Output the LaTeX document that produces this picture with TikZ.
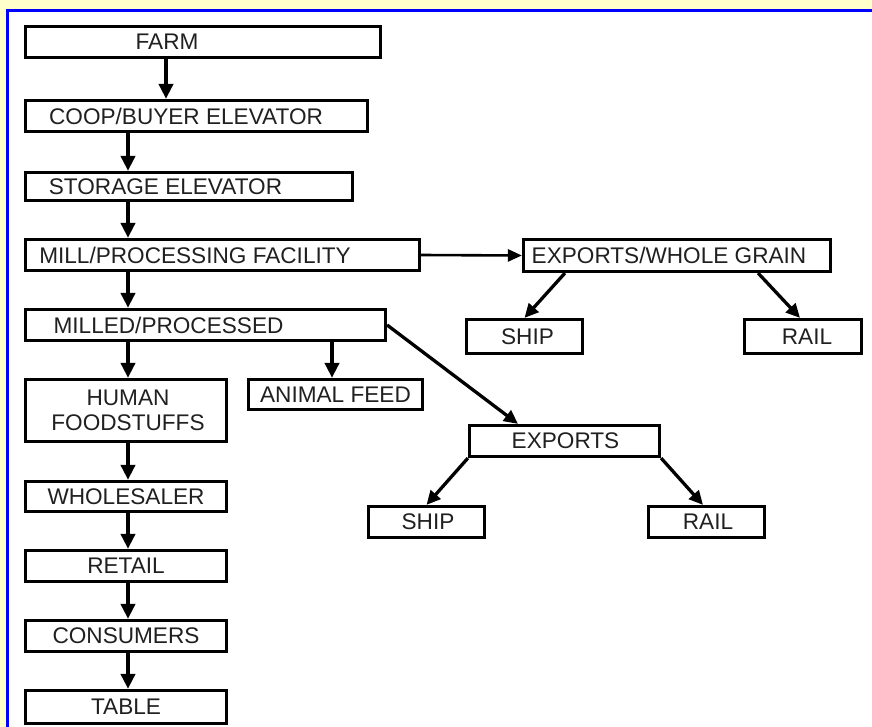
\documentclass[tikz,border=0pt]{standalone}
\usepackage{fontspec}
\setmainfont{Liberation Sans}
\usetikzlibrary{arrows.meta}
\definecolor{bgyellow}{HTML}{FFFFCC}
\definecolor{frameblue}{HTML}{0000FF}
\definecolor{txt}{HTML}{202020}
\begin{document}
\begin{tikzpicture}[x=1pt,y=-1pt,
  box/.style={draw=black, line width=3.2pt, fill=white, inner sep=0pt, rectangle},
  lbl/.style={font=\fontsize{22.6}{25}\selectfont, text=txt, inner sep=0pt, align=center},
  arr/.style={line width=3.8pt, -{Triangle[width=14pt,length=15pt]}},
  darr/.style={line width=3.3pt, -{Triangle[width=13pt,length=14pt]}},
  harr/.style={line width=2.6pt, -{Triangle[width=12pt,length=14pt]}}]
\useasboundingbox (0,0) rectangle (872,727);
\fill[bgyellow] (0,0) rectangle (872,727);
\fill[white] (7.5,11) rectangle (872,727);
\draw[frameblue, line width=3pt] (7.5,727) -- (7.5,11) -- (872,11);

\node[box, minimum width=355pt, minimum height=31pt, label={[lbl,xshift=-36pt]center:FARM}] (farm) at (203,42) {};
\node[box, minimum width=342pt, minimum height=31pt, label={[lbl,xshift=-10.5pt]center:COOP/BUYER ELEVATOR}] (coop) at (196.5,116) {};
\node[box, minimum width=327pt, minimum height=28pt, label={[lbl,xshift=-23.5pt]center:STORAGE ELEVATOR}] (storage) at (189,186.5) {};
\node[box, minimum width=394pt, minimum height=31pt, label={[lbl,xshift=-27.5pt]center:MILL/PROCESSING FACILITY}] (mill) at (222.5,255) {};
\node[box, minimum width=360pt, minimum height=31pt, label={[lbl,xshift=-37pt]center:MILLED/PROCESSED}] (milled) at (205.5,325) {};
\node[box, minimum width=201pt, minimum height=62pt, label={[lbl,xshift=2pt]center:HUMAN\\FOODSTUFFS}] (human) at (126,410.5) {};
\node[box, minimum width=174pt, minimum height=30pt, label={[lbl]center:ANIMAL FEED}] (animal) at (335.5,394.5) {};
\node[box, minimum width=201pt, minimum height=30pt, label={[lbl]center:WHOLESALER}] (wholesaler) at (126,496.5) {};
\node[box, minimum width=201pt, minimum height=31pt, label={[lbl]center:RETAIL}] (retail) at (126,566) {};
\node[box, minimum width=201pt, minimum height=31pt, label={[lbl]center:CONSUMERS}] (consumers) at (126,636) {};
\node[box, minimum width=201pt, minimum height=33pt, label={[lbl]center:TABLE}] (table) at (126,707) {};

\node[box, minimum width=307pt, minimum height=32pt, label={[lbl,xshift=-8pt]center:EXPORTS/WHOLE GRAIN}] (ewg) at (677,255.5) {};
\node[box, minimum width=116pt, minimum height=34pt, label={[lbl,xshift=3pt]center:SHIP}] (shipa) at (524.5,336.5) {};
\node[box, minimum width=117pt, minimum height=34pt, label={[lbl,xshift=4pt]center:RAIL}] (raila) at (803,336.5) {};
\node[box, minimum width=190pt, minimum height=31pt, label={[lbl,xshift=1pt]center:EXPORTS}] (exports) at (564.5,441) {};
\node[box, minimum width=116pt, minimum height=31pt, label={[lbl,xshift=1.5pt]center:SHIP}] (shipb) at (426.5,522) {};
\node[box, minimum width=116pt, minimum height=31pt, label={[lbl,xshift=1.5pt]center:RAIL}] (railb) at (706.5,522) {};

\coordinate (xa) at (166,0);
\coordinate (xb) at (128,0);
\coordinate (xc) at (332,0);

\draw[arr] (farm.south -| xa) -- (coop.north -| xa);
\draw[arr] (coop.south -| xb) -- (storage.north -| xb);
\draw[arr] (storage.south -| xb) -- (mill.north -| xb);
\draw[arr] (mill.south -| xb) -- (milled.north -| xb);
\draw[arr] (milled.south -| xb) -- (human.north -| xb);
\draw[arr] (milled.south -| xc) -- (animal.north -| xc);
\draw[arr] (human.south -| xb) -- (wholesaler.north -| xb);
\draw[arr] (wholesaler.south -| xb) -- (retail.north -| xb);
\draw[arr] (retail.south -| xb) -- (consumers.north -| xb);
\draw[arr] (consumers.south -| xb) -- (table.north -| xb);

\draw[harr] (mill.east) -- (ewg.west);
\draw[darr] ([xshift=43pt]ewg.south west) -- (shipa.north);
\draw[darr] ([xshift=-74pt]ewg.south east) -- ([xshift=-3pt]raila.north);
\draw[darr] (milled.east) -- ([xshift=-46.5pt]exports.north);
\draw[darr] (exports.south west) -- (shipb.north);
\draw[darr] (exports.south east) -- ([xshift=-3.5pt]railb.north);
\end{tikzpicture}
\end{document}
